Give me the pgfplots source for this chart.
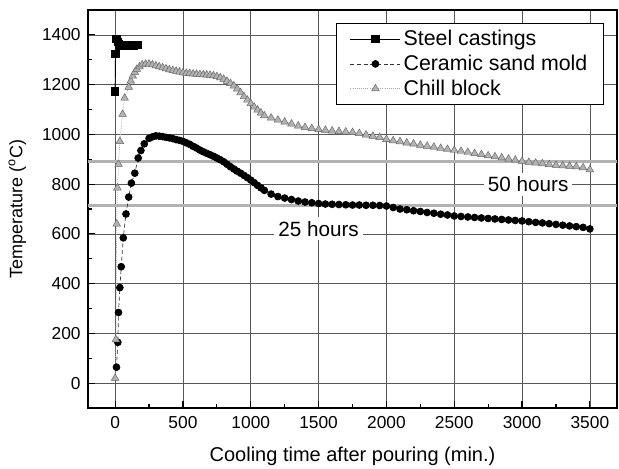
\documentclass[border=0pt]{standalone}
\usepackage{pgfplots}
\pgfplotsset{compat=1.18}
\usetikzlibrary{calc}
\usepackage{fontspec}
\setmainfont{Liberation Sans}
\begin{document}
\begin{tikzpicture}
\begin{axis}[
  name=ax,
  scale only axis,
  width=396.75pt, height=298.5pt,
  xmin=-200, xmax=3700, ymin=-100, ymax=1500,
  xtick={0,500,...,3500}, ytick={0,200,...,1400},
  minor x tick num=1, minor y tick num=1,
  tick align=inside,
  major tick length=5pt, minor tick length=3pt,
  grid=major,
  major grid style={black!65, line width=0.55pt},
  axis line style={black, line width=1.3pt},
  tick style={black, line width=0.9pt},
  xtick pos=bottom, ytick pos=left,
  /pgf/number format/assume math mode=true,
  /pgf/number format/1000 sep={},
  tick label style={font=\fontsize{13}{15}\selectfont},
  xticklabel style={yshift=-2.5pt},
  yticklabel style={xshift=-2pt},
  xlabel={Cooling time after pouring (min.)},
  ylabel={Temperature (\textsuperscript{o}C)},
  xlabel style={font=\fontsize{15}{17}\selectfont, at={(axis description cs:0.5,0)}, anchor=center, yshift=-36pt},
  ylabel style={font=\fontsize{13.5}{16}\selectfont, at={(axis description cs:0,0.5)}, anchor=center, yshift=53pt},
  legend style={at={(0.9754,0.967)}, anchor=north east, draw=black, line width=0.9pt,
    font=\fontsize{16}{18}\selectfont, row sep=1.5pt, inner xsep=10pt, inner ysep=3pt},
  legend cell align=left,
  legend image code/.code={\draw[mark repeat=2,mark phase=2,#1] plot coordinates {(0cm,0cm) (0.66cm,0cm) (1.32cm,0cm)};},
]
% reference lines
\addplot[gray!60, line width=1.9pt, forget plot] coordinates {(-200,890) (3700,890)};
\addplot[gray!60, line width=1.9pt, forget plot] coordinates {(-200,715) (3700,715)};
\node[fill=white, inner sep=3pt, font=\fontsize{15.5}{17}\selectfont] at (axis cs:3045,800) {50 hours};
\node[fill=white, inner sep=3pt, font=\fontsize{15.5}{17}\selectfont] at (axis cs:1500,620) {25 hours};

\addplot[black, line width=0.7pt, mark=square*, mark size=2.8pt, mark options={solid, fill=black}]
coordinates {(0,1172) (3,1324) (10,1384) (20,1372) (30,1362) (40,1358) (50,1356) (60,1355) (70,1355) (80,1356) (90,1356) (100,1357) (110,1357) (120,1358) (130,1358) (140,1358) (150,1359) (160,1359) (170,1360)};
\addlegendentry{Steel castings}

\addplot[black!80, densely dashed, line width=0.5pt, mark=*, mark size=2.6pt, mark options={solid, fill=black, draw=black}]
coordinates {(10,64) (20,164) (25,284) (35,384) (45,468) (60,584) (80,680) (100,748) (120,804) (145,844) (170,905) (190,935) (215,962) (250,984) (275,990) (300,994) (325,993) (350,991) (375,988) (400,986) (425,983) (450,979) (475,976) (500,972) (525,966) (550,960) (575,952) (600,945) (625,937) (650,930) (675,924) (700,918) (725,912) (750,905) (775,898) (800,890) (825,880) (850,870) (875,861) (900,852) (925,844) (950,835) (975,826) (1000,816) (1025,806) (1050,795) (1075,785) (1100,775) (1150,760) (1200,750) (1250,744) (1300,738) (1350,732) (1400,728) (1450,725) (1500,722) (1550,720) (1600,719) (1650,718) (1700,717) (1750,716) (1800,716) (1850,715) (1900,715) (1950,714) (2000,712) (2050,706) (2100,700) (2150,697) (2200,693) (2250,690) (2300,686) (2350,683) (2400,679) (2450,676) (2500,672) (2550,670) (2600,668) (2650,666) (2700,664) (2750,662) (2800,660) (2850,658) (2900,656) (2950,654) (3000,652) (3050,649) (3100,646) (3150,644) (3200,641) (3250,638) (3300,635) (3350,632) (3400,629) (3450,626) (3500,620)};
\addlegendentry{Ceramic sand mold}

\addplot[gray!70, densely dotted, line width=0.6pt, mark=triangle*, mark size=3.3pt, mark options={solid, fill=gray!60, draw=black!60, line width=0.35pt}]
coordinates {(0,20) (5,175) (12,640) (17,785) (25,880) (35,972) (55,1081) (70,1146) (100,1190) (115,1215) (130,1235) (145,1250) (160,1262) (180,1272) (200,1280) (225,1283) (250,1283) (275,1280) (300,1276) (325,1272) (350,1268) (375,1264) (400,1260) (425,1257) (450,1254) (475,1251) (500,1248) (525,1246) (550,1245) (575,1243) (600,1242) (625,1241) (650,1240) (675,1239) (700,1238) (725,1236) (750,1233) (775,1228) (800,1222) (825,1214) (850,1205) (875,1195) (900,1183) (925,1168) (950,1152) (975,1138) (1000,1124) (1025,1110) (1050,1098) (1075,1086) (1100,1075) (1150,1066) (1200,1058) (1250,1050) (1300,1042) (1350,1034) (1400,1028) (1450,1024) (1500,1020) (1550,1017) (1600,1014) (1650,1012) (1700,1010) (1750,1008) (1800,1004) (1850,998) (1900,993) (1950,988) (2000,980) (2050,975) (2100,971) (2150,966) (2200,962) (2250,957) (2300,953) (2350,949) (2400,944) (2450,940) (2500,936) (2550,932) (2600,928) (2650,923) (2700,919) (2750,914) (2800,910) (2850,906) (2900,901) (2950,897) (3000,892) (3050,888) (3100,885) (3150,882) (3200,879) (3250,876) (3300,874) (3350,872) (3400,870) (3450,866) (3500,858)};
\addlegendentry{Chill block}
\end{axis}
\pgfresetboundingbox
\path (ax.south west) ++(-66pt,-45pt) rectangle ($(ax.north east)+(1.5pt,7.5pt)$);
\end{tikzpicture}
\end{document}
